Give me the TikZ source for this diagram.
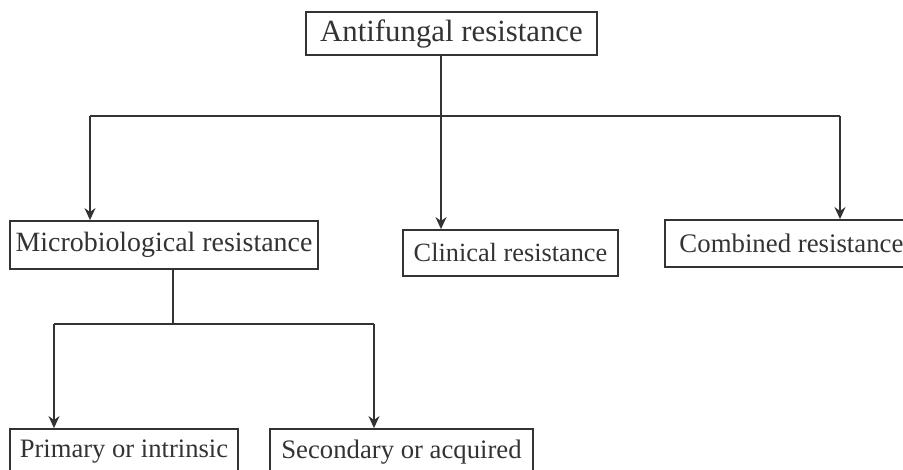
\documentclass[tikz,border=0pt]{standalone}
\usepackage{fontspec}
\setmainfont{Liberation Serif}
\usetikzlibrary{arrows.meta}
\definecolor{ink}{HTML}{333333}
\tikzset{
  box/.style={draw=ink, line width=1.8pt, rectangle, inner sep=0pt, text=ink, font=\fontsize{27}{30}\selectfont},
  arr/.style={draw=ink, line width=1.8pt, -{Stealth[length=12pt,width=11pt]}},
  ln/.style={draw=ink, line width=1.8pt}
}
\begin{document}
\begin{tikzpicture}[x=1pt,y=-1pt]
\useasboundingbox (0,0) rectangle (903,470);
\clip (0,0) rectangle (903,470);
\node[box, minimum width=291pt, minimum height=43pt, font=\fontsize{30.8}{33}\selectfont] (top) at (451.5,33.5) {Antifungal resistance};
\node[box, minimum width=308pt, minimum height=48pt, font=\fontsize{27.9}{30}\selectfont] (micro) at (164,245) {Microbiological resistance};
\node[box, minimum width=215pt, minimum height=46pt, font=\fontsize{26.3}{29}\selectfont] (clin) at (510.5,253) {Clinical resistance};
\node[box, minimum width=253pt, minimum height=47pt, font=\fontsize{26.8}{29}\selectfont] (comb) at (791.5,243.5) {Combined resistance};
\node[box, minimum width=228pt, minimum height=46pt, font=\fontsize{26.6}{29}\selectfont] (prim) at (124,452) {Primary or intrinsic};
\node[box, minimum width=263pt, minimum height=46pt, font=\fontsize{26.7}{29}\selectfont] (sec) at (401.5,452) {Secondary or acquired};
\coordinate (tc) at (441,116);
\coordinate (tl) at (90,116);
\coordinate (tr) at (840,116);
\coordinate (mc) at (173,324);
\coordinate (ml) at (54,324);
\coordinate (mr) at (374,324);
\draw[arr] (tc |- top.south) -- (tc |- clin.north);
\draw[ln] (tl) -- (tr);
\draw[arr] (tl) -- (tl |- micro.north);
\draw[arr] (tr) -- (tr |- comb.north);
\draw[ln] (mc |- micro.south) -- (mc);
\draw[ln] (ml) -- (mr);
\draw[arr] (ml) -- (ml |- prim.north);
\draw[arr] (mr) -- (mr |- sec.north);
\end{tikzpicture}
\end{document}
